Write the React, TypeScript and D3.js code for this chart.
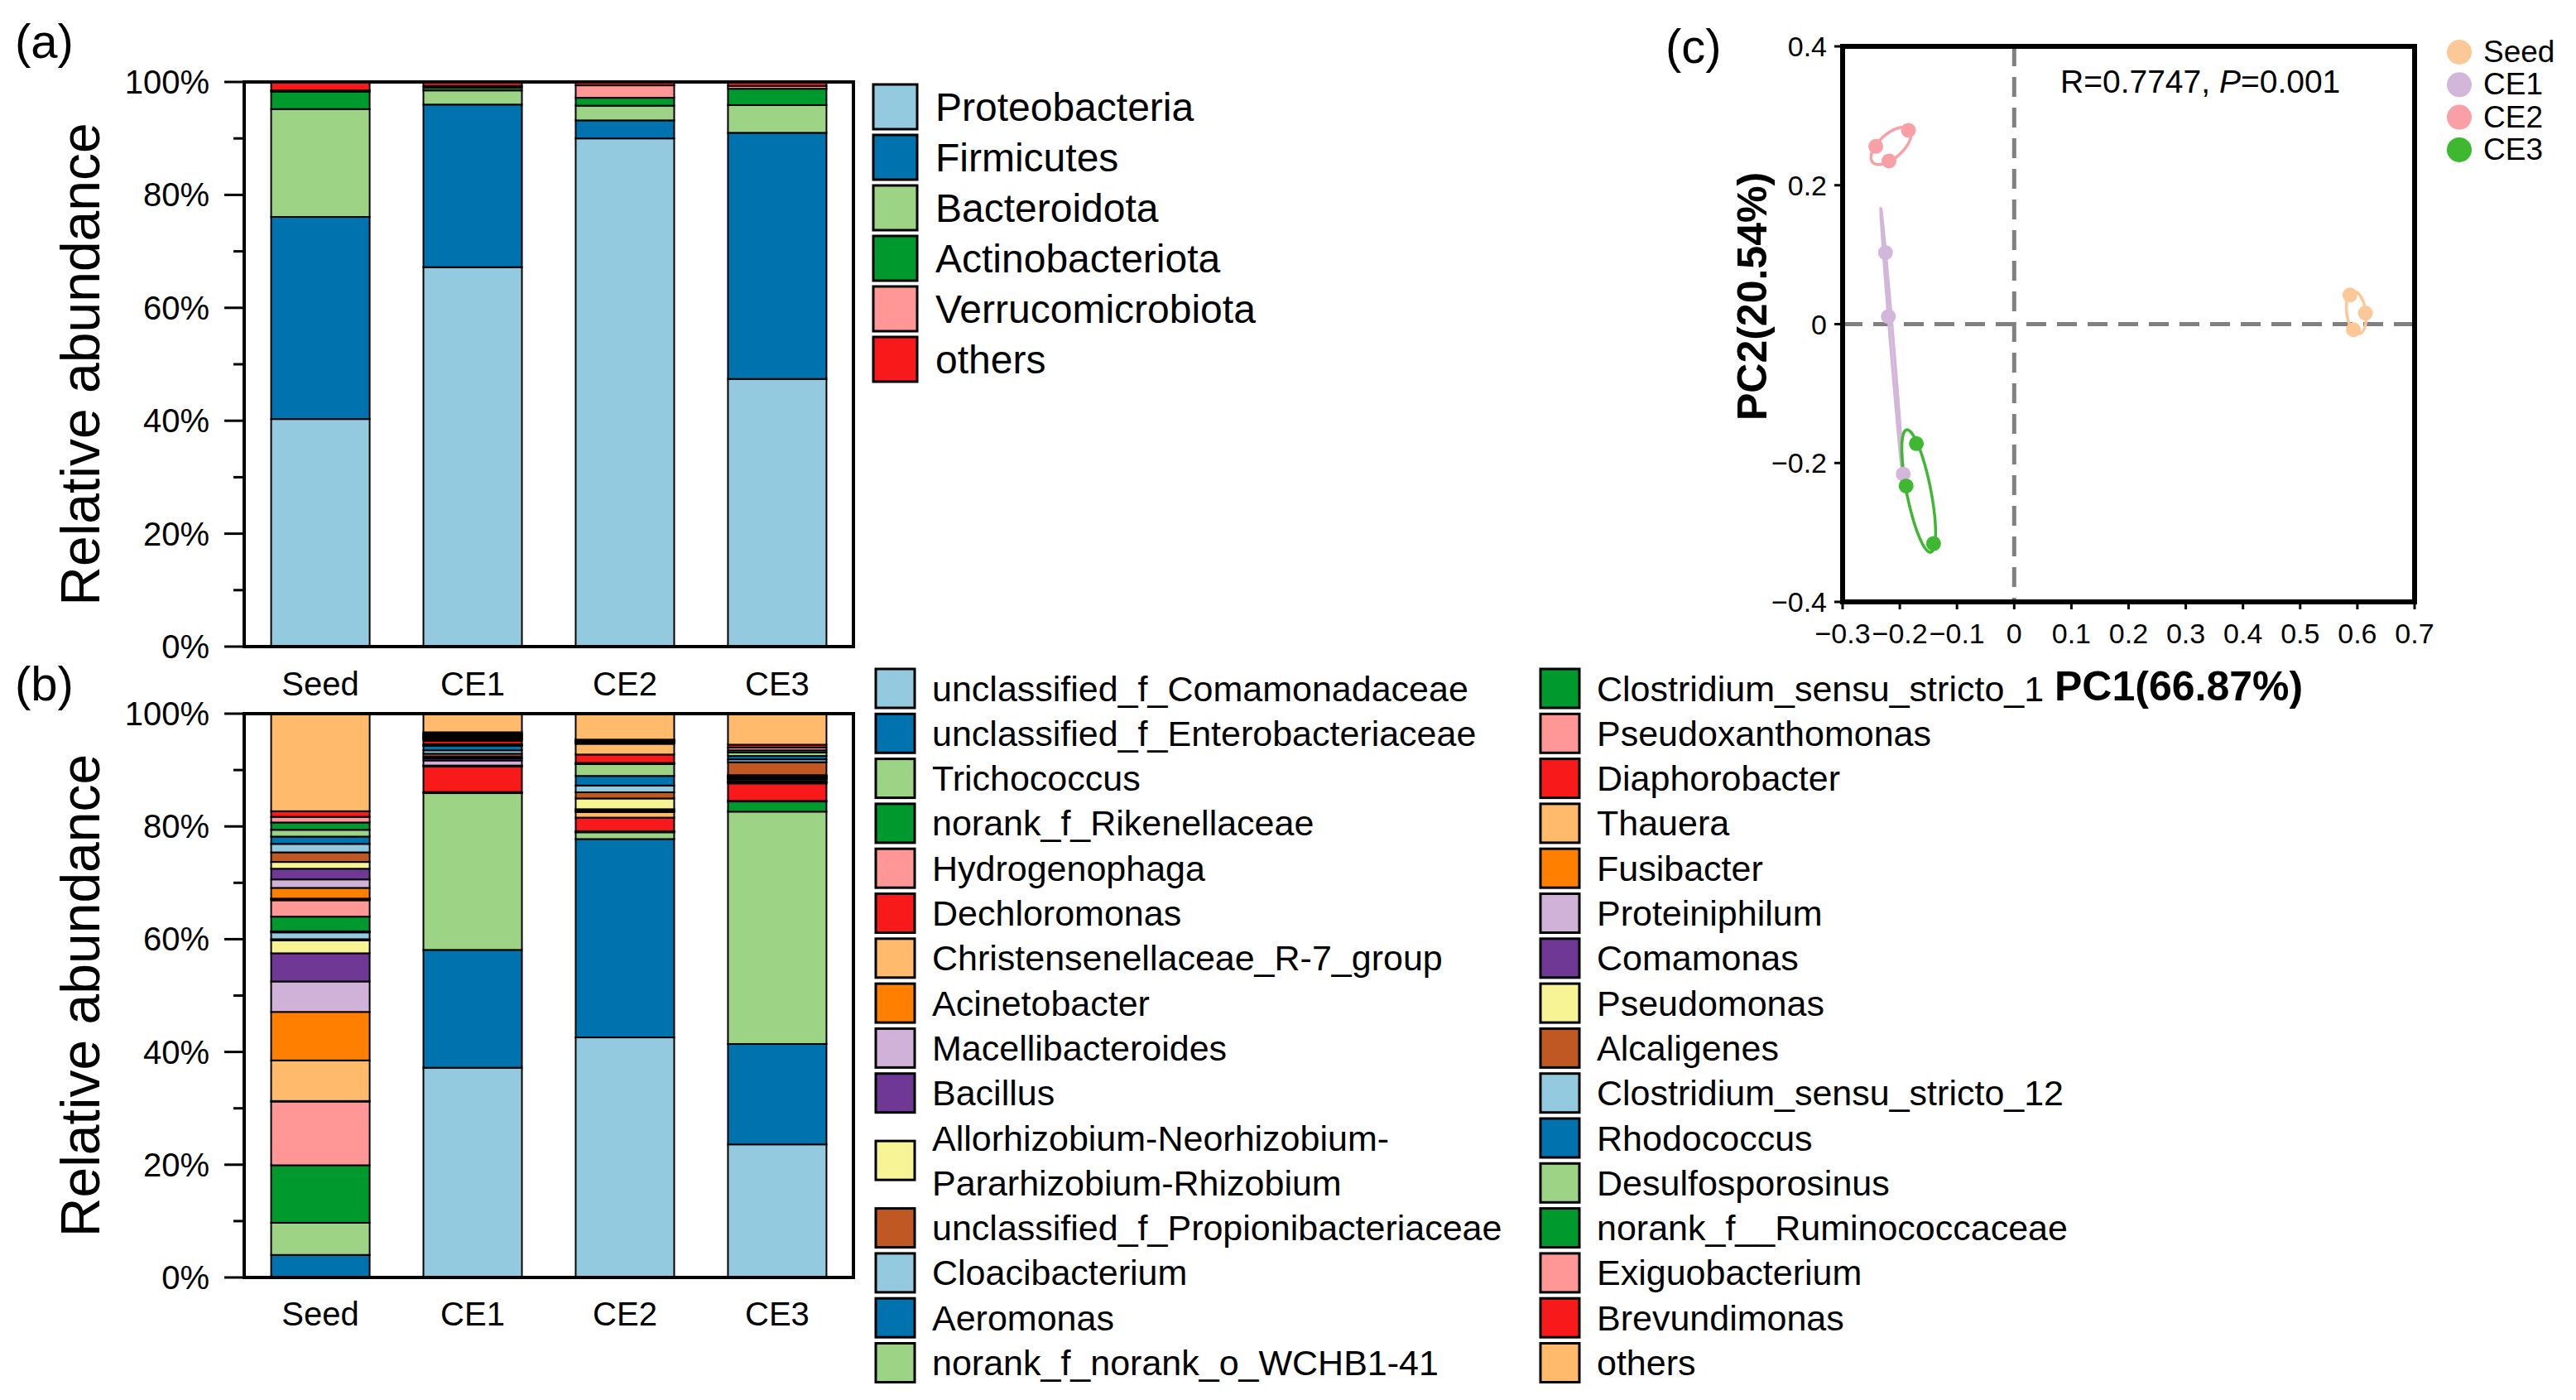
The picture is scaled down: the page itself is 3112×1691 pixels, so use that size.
import * as d3 from 'd3'

const FONT = '"Liberation Sans", Arial, Helvetica, sans-serif'

// ---------- data ----------
const samples = ['Seed', 'CE1', 'CE2', 'CE3']

const phyla = ['Proteobacteria', 'Firmicutes', 'Bacteroidota', 'Actinobacteriota', 'Verrucomicrobiota', 'others']
const phylumSeed = [40.3, 35.8, 19.1, 3.1, 0.2, 1.5]
const phylumCE1 = [67.2, 28.8, 2.5, 0.5, 0.3, 0.7]
const phylumCE2 = [90.0, 3.2, 2.6, 1.4, 2.2, 0.6]
const phylumCE3 = [47.4, 43.6, 4.9, 2.9, 0.5, 0.7]

const genera = [
  'unclassified_f_Comamonadaceae', 'unclassified_f_Enterobacteriaceae', 'Trichococcus', 'norank_f_Rikenellaceae',
  'Hydrogenophaga', 'Dechloromonas', 'Christensenellaceae_R-7_group', 'Acinetobacter', 'Macellibacteroides',
  'Bacillus', 'Allorhizobium-Neorhizobium-Pararhizobium-Rhizobium', 'unclassified_f_Propionibacteriaceae',
  'Cloacibacterium', 'Aeromonas', 'norank_f_norank_o_WCHB1-41', 'Clostridium_sensu_stricto_1',
  'Pseudoxanthomonas', 'Diaphorobacter', 'Thauera', 'Fusibacter', 'Proteiniphilum', 'Comamonas', 'Pseudomonas',
  'Alcaligenes', 'Clostridium_sensu_stricto_12', 'Rhodococcus', 'Desulfosporosinus', 'norank_f__Ruminococcaceae',
  'Exiguobacterium', 'Brevundimonas', 'others',
]
const genusSeed = [0.1, 3.9, 5.7, 10.2, 11.3, 0.1, 7.2, 8.6, 5.4, 5.0, 2.3, 0.2, 1.2, 0.1, 0.1, 2.6,
  2.9, 0.2, 0.1, 1.9, 1.5, 1.9, 1.2, 1.7, 1.5, 1.3, 1.2, 1.3, 1.0, 1.0, 17.3]
const genusCE1 = [37.2, 20.9, 27.8, 0.1, 0.1, 4.5, 0.1, 0.1, 0.9, 0.4, 0.3, 0.5, 0.6, 0.8, 0.1, 0.1,
  0.1, 0.6, 0.15, 0.1, 0.15, 0.1, 0.1, 0.15, 0.1, 0.15, 0.1, 0.15, 0.1, 0.15, 3.3]
const genusCE2 = [42.6, 35.2, 1.2, 0.1, 0.1, 2.4, 1.0, 0.1, 0.2, 0.2, 1.9, 1.1, 1.2, 1.7, 2.1, 0.1,
  0.1, 1.5, 1.9, 0.1, 0.1, 0.1, 0.1, 0.05, 0.05, 0.05, 0.05, 0.05, 0.05, 0.05, 4.6]
const genusCE3 = [23.6, 17.8, 41.2, 1.8, 0.1, 3.1, 0.1, 0.1, 0.05, 0.05, 0.05, 0.35, 0.07, 0.07, 0.07, 0.07,
  0.07, 0.07, 0.07, 0.07, 0.07, 0.07, 0.07, 2.3, 0.5, 0.6, 0.6, 0.4, 0.5, 0.5, 5.5]

const yTickLabels = ['0%', '20%', '40%', '60%', '80%', '100%']

const groups = ['Seed', 'CE1', 'CE2', 'CE3']
const groupColors = ['#fdc898', '#d3b7da', '#f9a0a7', '#3db830']
const pcX = [
  [0.587, 0.614, 0.593],
  [-0.225, -0.220, -0.194],
  [-0.242, -0.185, -0.219],
  [-0.171, -0.189, -0.141],
]
const pcY = [
  [0.042, 0.016, -0.008],
  [0.103, 0.011, -0.216],
  [0.256, 0.279, 0.235],
  [-0.172, -0.233, -0.316],
]
const pcXTicks = [-0.3, -0.2, -0.1, 0, 0.1, 0.2, 0.3, 0.4, 0.5, 0.6, 0.7]
const pcYTicks = [-0.4, -0.2, 0, 0.2, 0.4]

// ---------- styles ----------
const palette = ['#94cadf', '#0072ae', '#9cd385', '#00992e', '#ff9797', '#f81a1a',
  '#ffba6b', '#ff7f00', '#d0b2d8', '#6e3894', '#f7f495', '#c05823']
const phylumColors = palette.slice(0, 5).concat(['#f81a1a'])
const genusColors = genera.map((_, i) => palette[i % palette.length])

const barX = d3.scaleBand().domain(samples).range([295, 1031]).paddingInner(0.353).paddingOuter(0.177)

const fmtTick = (v: number) => (v === 0 ? '0' : (v < 0 ? '\u2212' : '') + Math.abs(v).toString())

function StackPanel({ keys, colors, rows, top, bottom, label, labelY, catY }: {
  keys: string[]; colors: string[]; rows: number[][]; top: number; bottom: number
  label: string; labelY: number; catY: number
}) {
  const y = d3.scaleLinear().domain([0, 1]).range([bottom, top])
  const table = samples.map((s, j) => {
    const o: Record<string, number | string> = { sample: s }
    keys.forEach((k, i) => { o[k] = rows[j][i] })
    return o
  })
  const series = d3.stack<Record<string, number | string>>()
    .keys(keys)
    .value((d, k) => d[k] as number)
    .offset(d3.stackOffsetExpand)(table)
  const ticks = y.ticks(10)
  const [x0, x1] = barX.range()
  return (
    <g>
      <text x={18} y={labelY} fontSize={58} fontFamily={FONT}>{label}</text>
      <text transform={`translate(120,${(top + bottom) / 2}) rotate(-90)`} textAnchor="middle"
        fontSize={66} fontFamily={FONT}>Relative abundance</text>
      {series.map((s, i) => s.map((d, j) => (
        <rect key={`${i}-${j}`} x={barX(samples[j])} width={barX.bandwidth()}
          y={y(d[1])} height={Math.max(0, y(d[0]) - y(d[1]))}
          fill={colors[i]} stroke="#000" strokeWidth={2} />
      )))}
      {ticks.map((t, i) => (
        <line key={t} x1={x0 - (i % 2 === 0 ? 24 : 13)} x2={x0} y1={y(t)} y2={y(t)} stroke="#000" strokeWidth={3} />
      ))}
      {ticks.filter((_, i) => i % 2 === 0).map((t, i) => (
        <text key={t} x={253} y={y(t) + 14} textAnchor="end" fontSize={40} fontFamily={FONT}>{yTickLabels[i]}</text>
      ))}
      <rect x={x0} y={top} width={x1 - x0} height={bottom - top} fill="none" stroke="#000" strokeWidth={4} />
      {samples.map(s => (
        <text key={s} x={barX(s)! + barX.bandwidth() / 2} y={catY} textAnchor="middle" fontSize={40} fontFamily={FONT}>{s}</text>
      ))}
    </g>
  )
}

function ellipsePath(xs: number[], ys: number[], k: number,
  sx: d3.ScaleLinear<number, number>, sy: d3.ScaleLinear<number, number>) {
  const n = xs.length
  const mx = d3.mean(xs)!, my = d3.mean(ys)!
  let sxx = 0, syy = 0, sxy = 0
  for (let i = 0; i < n; i++) {
    const dx = xs[i] - mx, dy = ys[i] - my
    sxx += dx * dx; syy += dy * dy; sxy += dx * dy
  }
  sxx /= n - 1; syy /= n - 1; sxy /= n - 1
  const a = Math.sqrt(sxx), b = sxy / a, c = Math.sqrt(Math.max(syy - b * b, 1e-10))
  const pts = d3.range(160).map(i => {
    const t = (2 * Math.PI * i) / 160
    const u = Math.cos(t), v = Math.sin(t)
    return [sx(mx + k * a * u), sy(my + k * (b * u + c * v))] as [number, number]
  })
  return d3.line().curve(d3.curveLinearClosed)(pts)!
}

function PcoaPanel() {
  const sx = d3.scaleLinear().domain([-0.3, 0.7]).range([2226, 2917])
  const sy = d3.scaleLinear().domain([-0.4, 0.4]).range([727, 56])
  const [l, r] = sx.range()
  const [b, t] = sy.range()
  return (
    <g fontFamily={FONT}>
      <text x={2012} y={76} fontSize={58}>(c)</text>
      <line x1={sx(0)} x2={sx(0)} y1={t} y2={b} stroke="#808080" strokeWidth={5} strokeDasharray="24 13" />
      <line x1={l} x2={r} y1={sy(0)} y2={sy(0)} stroke="#808080" strokeWidth={5} strokeDasharray="24 13" />
      {groups.map((g, i) => (
        <path key={g} d={ellipsePath(pcX[i], pcY[i], 1.22, sx, sy)} fill="none" stroke={groupColors[i]} strokeWidth={3.5} />
      ))}
      {groups.map((g, i) => pcX[i].map((v, j) => (
        <circle key={`${g}-${j}`} cx={sx(v)} cy={sy(pcY[i][j])} r={9} fill={groupColors[i]} />
      )))}
      <rect x={l} y={t} width={r - l} height={b - t} fill="none" stroke="#000" strokeWidth={6} />
      {pcXTicks.map(v => (
        <g key={v}>
          <line x1={sx(v)} x2={sx(v)} y1={b} y2={b + 9} stroke="#000" strokeWidth={3} />
          <text x={sx(v)} y={777} textAnchor="middle" fontSize={34}>{fmtTick(v)}</text>
        </g>
      ))}
      {pcYTicks.map(v => (
        <g key={v}>
          <line x1={l - 10} x2={l} y1={sy(v)} y2={sy(v)} stroke="#000" strokeWidth={3} />
          <text x={2207} y={sy(v) + 12} textAnchor="end" fontSize={34}>{fmtTick(v)}</text>
        </g>
      ))}
      <text x={2482} y={846} fontSize={50} fontWeight="bold">PC1(66.87%)</text>
      <text transform="translate(2134,358) rotate(-90)" textAnchor="middle" fontSize={50} fontWeight="bold">PC2(20.54%)</text>
      <text x={2489} y={112} fontSize={39}>R=0.7747, <tspan fontStyle="italic">P</tspan>=0.001</text>
      {groups.map((g, i) => (
        <g key={g}>
          <circle cx={2971} cy={63 + i * 39.3} r={15} fill={groupColors[i]} />
          <text x={3000} y={63 + i * 39.3 + 12} fontSize={37}>{g}</text>
        </g>
      ))}
    </g>
  )
}

function PhylumLegend() {
  return (
    <g fontFamily={FONT}>
      {phyla.map((p, i) => (
        <g key={p}>
          <rect x={1055} y={102 + i * 61} width={53} height={54} fill={phylumColors[i]} stroke="#000" strokeWidth={3} />
          <text x={1130} y={102 + i * 61 + 27 + 17} fontSize={48}>{p}</text>
        </g>
      ))}
    </g>
  )
}

function GenusLegend() {
  const pitch = 54.3
  const c0 = 831.5
  const items = genera.map((g, i) => {
    if (i < 15) {
      const slot = i < 10 ? i : i === 10 ? 10.5 : i + 1
      return { g, i, bx: 1058, tx: 1126, slot }
    }
    return { g, i, bx: 1861, tx: 1929, slot: i - 15 }
  })
  return (
    <g fontFamily={FONT} fontSize={43}>
      {items.map(({ g, i, bx, tx, slot }) => {
        const cy = c0 + slot * pitch
        const lines = i === 10 ? ['Allorhizobium-Neorhizobium-', 'Pararhizobium-Rhizobium'] : [g]
        return (
          <g key={g}>
            <rect x={bx} y={cy - 23.5} width={47} height={47} fill={genusColors[i]} stroke="#000" strokeWidth={3} />
            {lines.map((ln, k) => (
              <text key={k} x={tx} y={cy + 15 + (lines.length > 1 ? (k - 0.5) * pitch : 0)}>{ln}</text>
            ))}
          </g>
        )
      })}
    </g>
  )
}

export default function App() {
  return (
    <svg width={3112} height={1691} viewBox="0 0 3112 1691"
      style={{ position: 'absolute', left: 0, top: 0, background: '#fff' }}>
      <rect width={3112} height={1691} fill="#fff" />
      <StackPanel keys={phyla} colors={phylumColors} rows={[phylumSeed, phylumCE1, phylumCE2, phylumCE3]}
        top={99} bottom={781} label="(a)" labelY={70} catY={840} />
      <PhylumLegend />
      <StackPanel keys={genera} colors={genusColors} rows={[genusSeed, genusCE1, genusCE2, genusCE3]}
        top={862} bottom={1543} label="(b)" labelY={846} catY={1601} />
      <GenusLegend />
      <PcoaPanel />
    </svg>
  )
}
